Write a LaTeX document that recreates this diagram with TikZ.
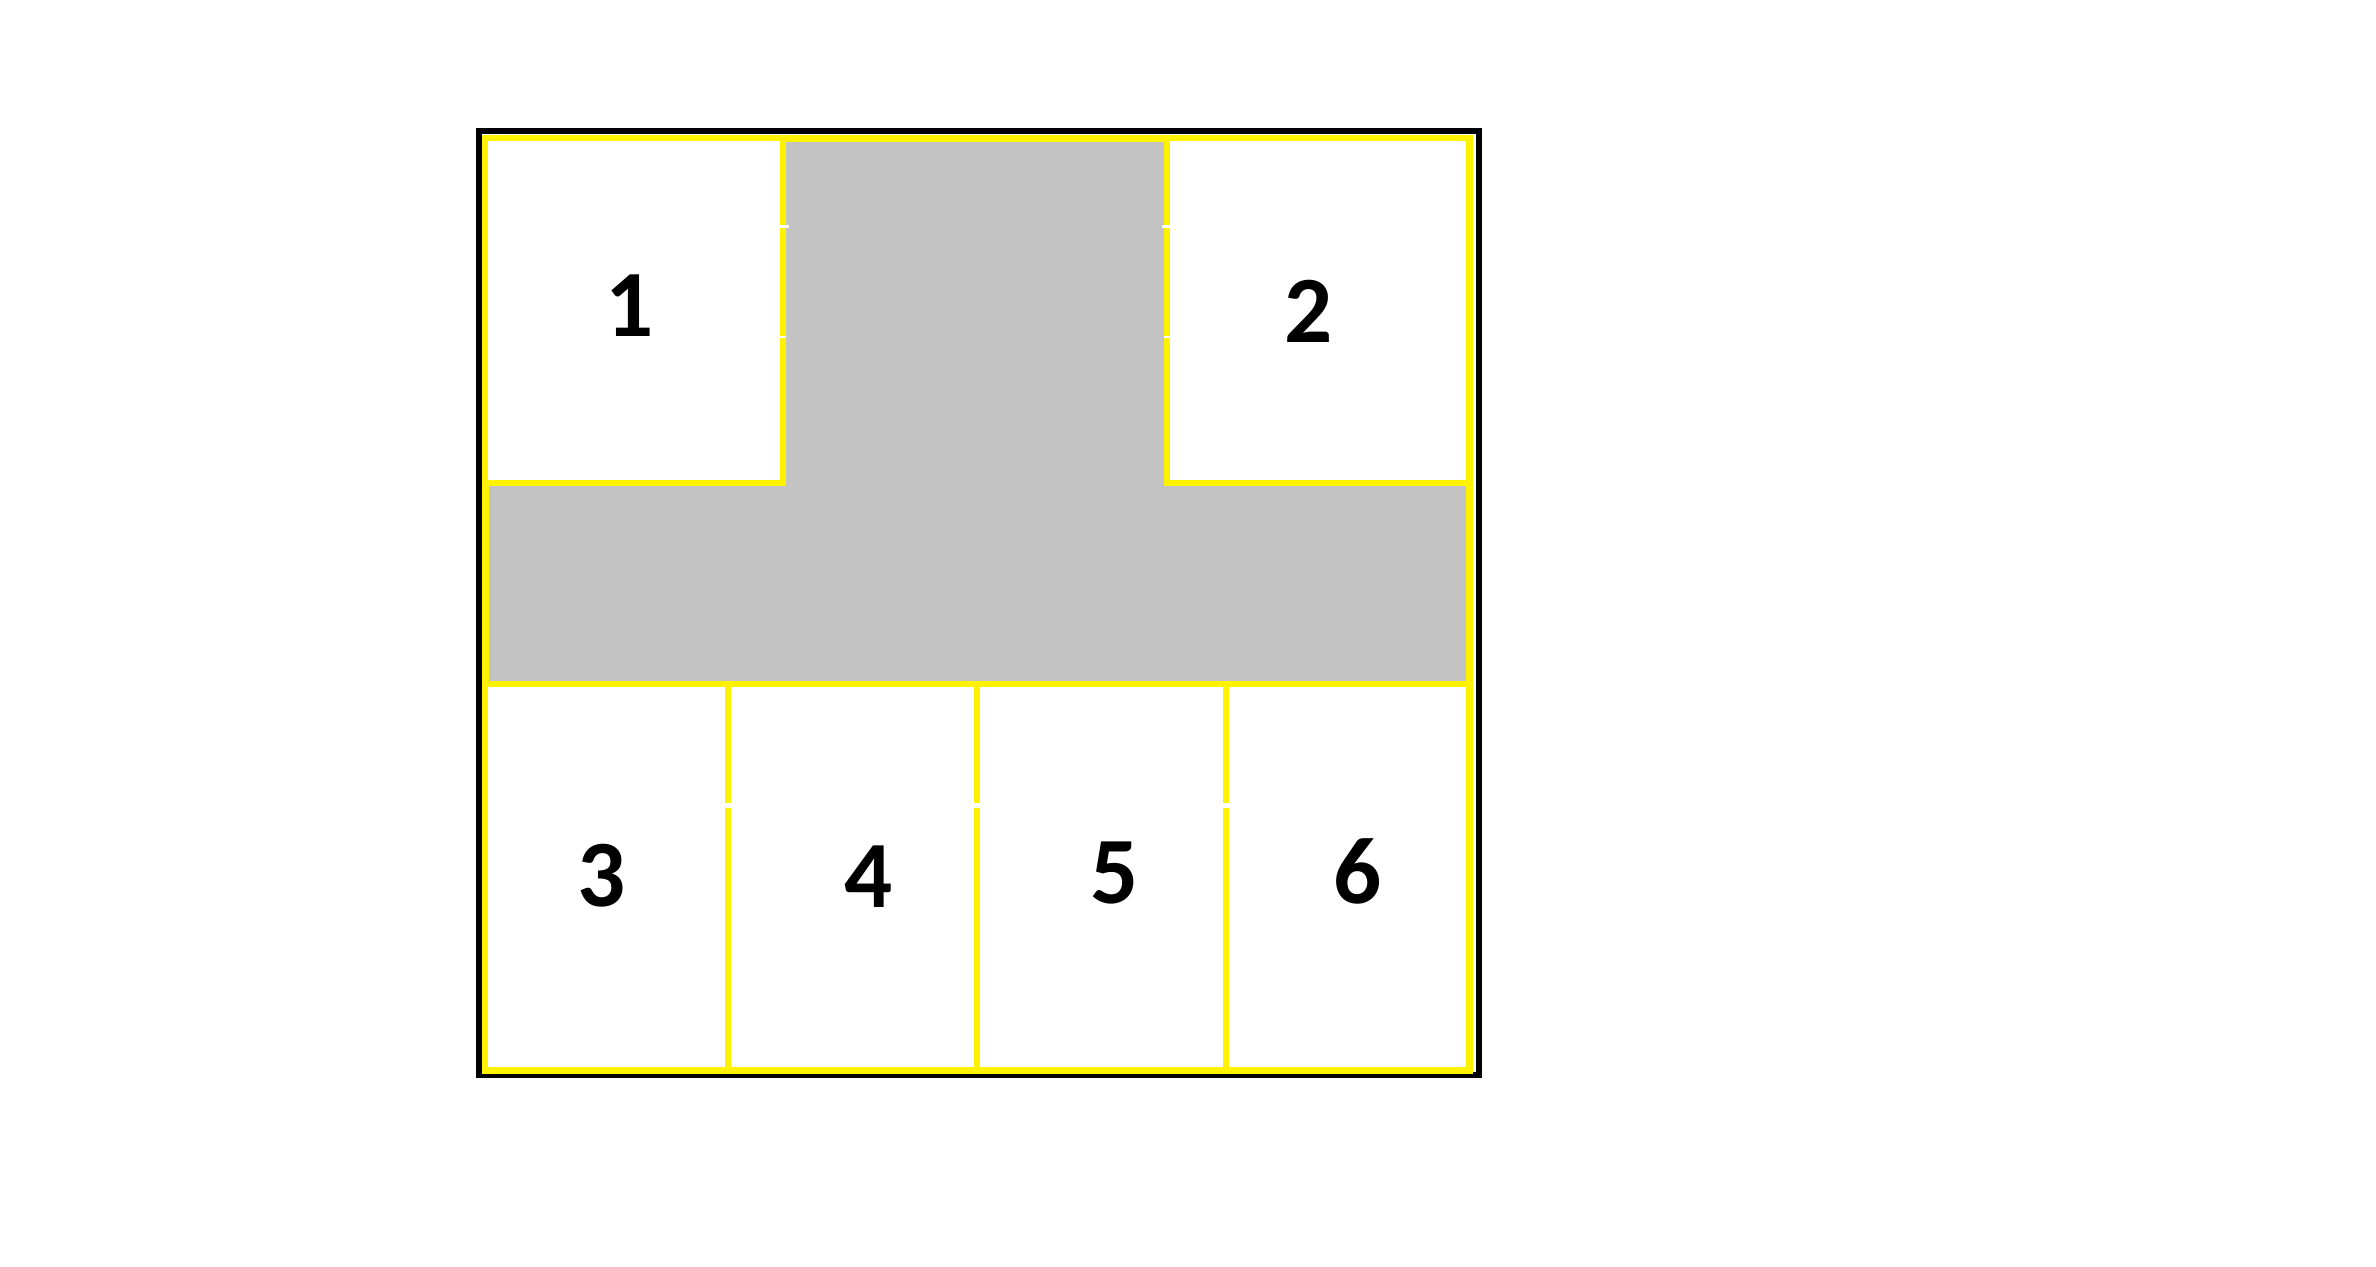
\documentclass[tikz,border=0pt]{standalone}
\usepackage{fontspec}
\setmainfont{Carlito}
\definecolor{wall}{RGB}{255,242,0}
\definecolor{hall}{RGB}{195,195,195}
\tikzset{
  room/.style={draw=wall, fill=white, line width=6.5pt, inner sep=0pt, outer sep=0pt},
  num/.style={font=\fontsize{95}{95}\selectfont\bfseries, inner sep=0pt},
  gap/.style={fill=white}
}
\begin{document}
\begin{tikzpicture}[x=1pt,y=-1pt]
\useasboundingbox (0,0) rectangle (2376,1266);
% outer frame and corridor
\node[draw=black, line width=6pt, minimum width=1000pt, minimum height=944pt, inner sep=0pt] (frame) at (979,602.5) {};
\node[draw=wall, fill=hall, line width=7pt, minimum width=984pt, minimum height=932pt, inner sep=0pt] (hallway) at (977,604) {};
% rooms
\node[room, minimum width=298pt, minimum height=345pt] (r1) at (634,310.5) {};
\node[room, minimum width=302pt, minimum height=345pt] (r2) at (1318,310.5) {};
\node[room, minimum width=243pt, minimum height=386pt] (r3) at (606.5,877) {};
\node[room, minimum width=249pt, minimum height=386pt] (r4) at (852.5,877) {};
\node[room, minimum width=249pt, minimum height=386pt] (r5) at (1101.5,877) {};
\node[room, minimum width=243pt, minimum height=386pt] (r6) at (1347.5,877) {};
% small breaks in the walls
\fill[gap] (779,224.5) rectangle (789,228);
\fill[gap] (1162,224.5) rectangle (1172,228);
\fill[gap] (779,336) rectangle (786,338);
\fill[gap] (1164,336) rectangle (1171,338);
\fill[gap] (721,803) rectangle (736,808);
\fill[gap] (972,803) rectangle (983,808);
\fill[gap] (1221,803) rectangle (1232,808);
% labels
\node[num] (l1) at (630,306) {1};
\node[num] (l2) at (1309,311) {2};
\node[num] (l3) at (602,876) {3};
\node[num] (l4) at (869,877) {4};
\node[num] (l5) at (1115,873) {5};
\node[num] (l6) at (1358,871) {6};
\end{tikzpicture}
\end{document}
